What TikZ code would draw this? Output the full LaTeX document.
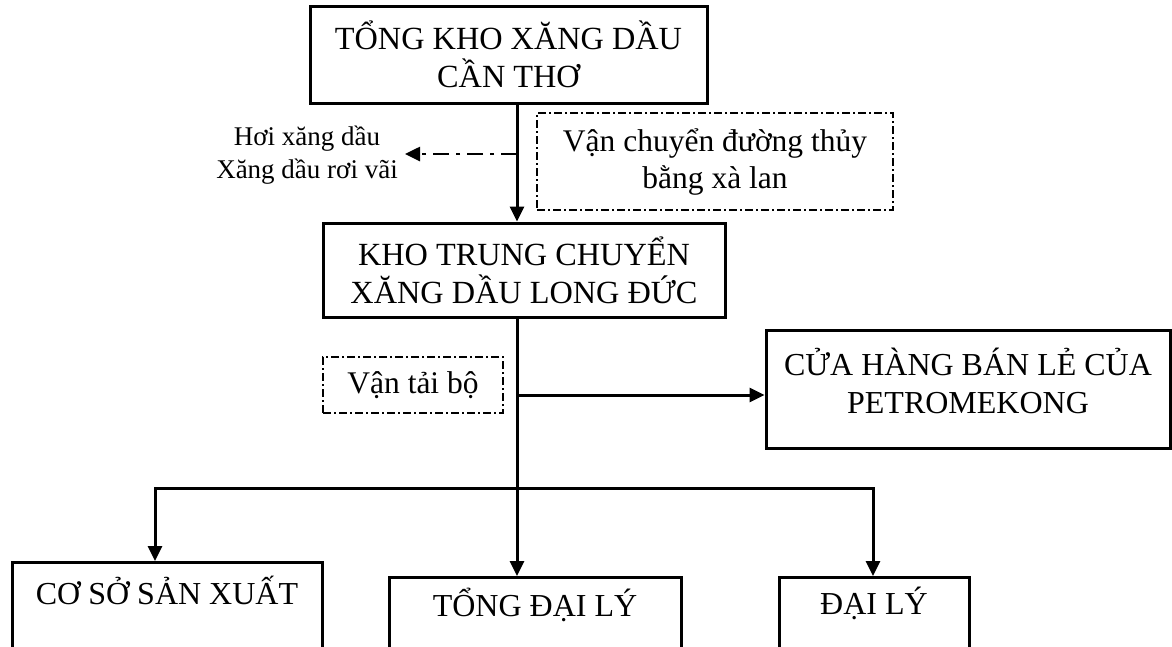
\documentclass[tikz,border=0pt]{standalone}
\usepackage{fontspec}
\setmainfont{Liberation Serif}
\usetikzlibrary{arrows.meta}
\begin{document}
\begin{tikzpicture}[x=1pt,y=-1pt,
  box/.style={draw, line width=3pt, inner sep=0pt, align=center, font=\fontsize{32.3}{38}\selectfont},
  lowbox/.style={draw, line width=3pt, inner xsep=0pt, inner ysep=0pt, anchor=north, font=\fontsize{32}{38}\selectfont},
  dbox/.style={draw, line width=1.4pt, dash pattern=on 8pt off 3pt on 2pt off 3pt, inner sep=0pt, align=center, font=\fontsize{31.5}{37}\selectfont},
  plain/.style={inner sep=0pt, align=center, font=\fontsize{32}{38}\selectfont},
  conn/.style={line width=3pt},
  arr/.style={conn, -{Triangle[length=15pt,width=14pt]}},
  darr/.style={line width=2.6pt, dash pattern=on 16pt off 7pt on 4pt off 7pt, -{Triangle[length=15pt,width=14pt]}},
]
\useasboundingbox (0,0) rectangle (1172,646);
\clip (0,0) rectangle (1172,646);

% boxes
\node[box, minimum width=397pt, minimum height=97pt] (top) at (508.5,54.5) {TỔNG KHO XĂNG DẦU\\CẦN THƠ};
\node[dbox, minimum width=356pt, minimum height=97pt] (water) at (715,161.5) {Vận chuyển đường thủy\\bằng xà lan};
\node[box, minimum width=402pt, minimum height=94pt] (kho) at (524,270) {KHO TRUNG CHUYỂN\\XĂNG DẦU LONG ĐỨC};
\node[dbox, minimum width=180pt, minimum height=56pt] (road) at (413,385) {Vận tải bộ};
\node[box, minimum width=404pt, minimum height=118pt] (shop) at (968,389) {};
\node[plain] (shoptext) at (968,381) {CỬA HÀNG BÁN LẺ CỦA\\PETROMEKONG};
\node[lowbox, minimum width=310pt, text height=42pt, text depth=77pt] (coso) at (167,561) {CƠ SỞ SẢN XUẤT};
\node[lowbox, minimum width=292pt, text height=39pt, text depth=65pt] (tdl) at (535,576) {TỔNG ĐẠI LÝ};
\node[lowbox, minimum width=190pt, text height=37pt, text depth=67pt] (daily) at (874,576) {ĐẠI LÝ};

% side text
\node[inner sep=0pt, align=center, font=\fontsize{27}{33}\selectfont] (leak) at (307,155) {Hơi xăng dầu\\Xăng dầu rơi vãi};

% coordinates
\coordinate (sx) at (517,0);
\coordinate (leakstart) at (517,154);
\coordinate (leakend) at (405,154);
\coordinate (tap) at (517,395);
\coordinate (bus) at (517,488);
\coordinate (bl) at (155,488);
\coordinate (br) at (873,488);

% connectors
\draw[arr] (top.south -| sx) -- (kho.north -| sx);
\draw[darr] (leakstart) -- (leakend);
\draw[conn] (kho.south -| sx) -- (bus);
\draw[arr] (tap) -- (tap -| shop.west);
\draw[arr] (bus) -- (bl) -- (bl |- coso.north);
\draw[arr] (bus) -- (br) -- (br |- daily.north);
\draw[arr] (bus) -- (bus |- tdl.north);
\end{tikzpicture}
\end{document}
